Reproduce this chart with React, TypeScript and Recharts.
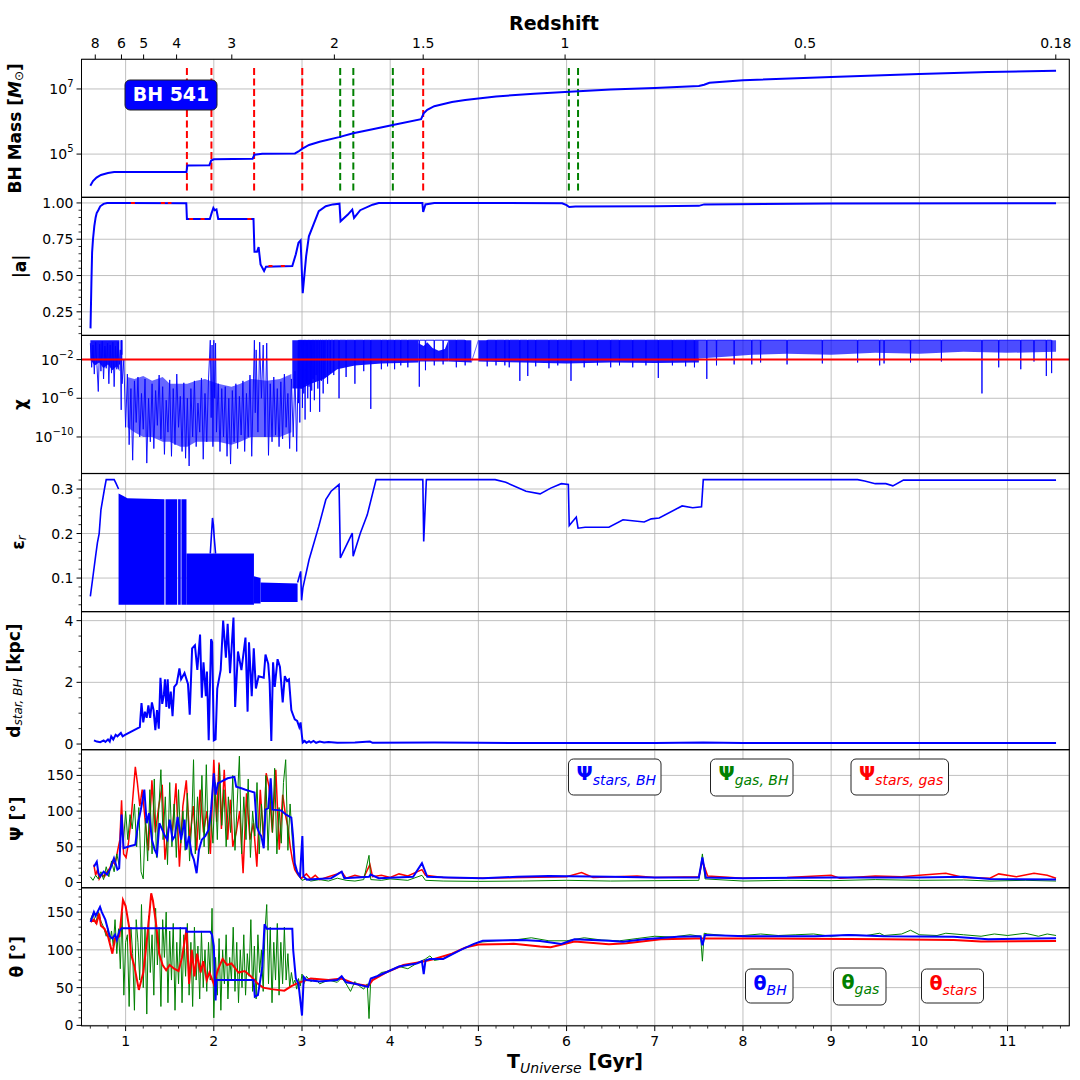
import React from 'react';
import { ComposedChart, Line, Area, XAxis, YAxis, CartesianGrid, ReferenceLine } from 'recharts';

type P = [number, number];
type B = [number, number, number];

// cosmic time axis (Gyr)
const tRange: [number, number] = [0.5, 11.7];
const gyrTicks = [1, 2, 3, 4, 5, 6, 7, 8, 9, 10, 11];
const gyrMinor = [
  0.6, 0.8, 1.2, 1.4, 1.6, 1.8, 2.2, 2.4, 2.6, 2.8, 3.2, 3.4, 3.6, 3.8, 4.2, 4.4, 4.6, 4.8,
  5.2, 5.4, 5.6, 5.8, 6.2, 6.4, 6.6, 6.8, 7.2, 7.4, 7.6, 7.8, 8.2, 8.4, 8.6, 8.8, 9.2, 9.4,
  9.6, 9.8, 10.2, 10.4, 10.6, 10.8, 11.2, 11.4, 11.6,
];

// redshift labels on the top axis and the time each one sits at
const zLabels = ['8', '6', '5', '4', '3', '2', '1.5', '1', '0.5', '0.18'];
const zTimes = [0.656, 0.953, 1.204, 1.578, 2.204, 3.367, 4.374, 5.983, 8.704, 11.547];

// BH mass, log10(M / Msun)
const massLog: P[] = [
  [0.6, 4.03], [0.63, 4.17], [0.67, 4.28], [0.72, 4.36], [0.8, 4.42], [0.87, 4.45], [1.69, 4.45],
  [1.7, 4.65], [1.95, 4.66], [1.97, 4.8], [2.0, 4.84], [2.44, 4.86], [2.46, 4.98], [2.55, 5.01],
  [2.92, 5.02], [2.96, 5.08], [3.0, 5.16], [3.08, 5.28], [3.2, 5.38], [3.42, 5.52], [3.58, 5.64],
  [3.8, 5.76], [4.03, 5.89], [4.35, 6.07], [4.38, 6.25], [4.42, 6.36], [4.5, 6.47], [4.7, 6.6],
  [4.85, 6.66], [5.2, 6.77], [5.63, 6.85], [5.98, 6.91], [6.5, 6.98], [7.0, 7.03], [7.5, 7.09],
  [7.56, 7.13], [7.62, 7.19], [8.0, 7.27], [9.0, 7.37], [10.0, 7.46], [10.78, 7.52], [11.55, 7.56],
];
const mergersRed = [1.695, 1.973, 2.457, 3.003, 4.374];
const mergersGreen = [3.433, 3.582, 4.03, 6.026, 6.13];
const mergerSpan: [number, number] = [3.88, 7.7];

// spin |a|
const spinBlue: P[] = [
  [0.602, 0.136], [0.612, 0.45], [0.62, 0.66], [0.63, 0.75], [0.645, 0.84], [0.66, 0.9], [0.672, 0.93],
  [0.69, 0.95], [0.712, 0.977], [0.75, 0.994], [0.79, 1.0], [1.0, 1.0], [1.688, 0.998], [1.695, 0.89],
  [1.955, 0.89], [1.975, 0.93], [1.995, 0.966], [2.01, 0.95], [2.03, 0.955], [2.05, 0.89], [2.45, 0.89],
  [2.461, 0.664], [2.49, 0.664], [2.508, 0.696], [2.53, 0.577], [2.57, 0.531], [2.592, 0.561],
  [2.89, 0.565], [2.93, 0.646], [2.96, 0.726], [2.984, 0.742], [3.008, 0.378], [3.047, 0.634],
  [3.078, 0.77], [3.13, 0.851], [3.19, 0.943], [3.27, 0.977], [3.35, 0.99], [3.425, 0.995],
  [3.437, 0.874], [3.52, 0.92], [3.57, 0.954], [3.59, 0.897], [3.66, 0.95], [3.8, 0.988], [3.87, 1.0],
  [4.365, 1.0], [4.374, 0.938], [4.4, 0.99], [4.5, 1.0], [5.95, 0.998], [6.0, 0.985], [6.03, 0.972],
  [6.1, 0.975], [7.0, 0.977], [7.5, 0.98], [7.56, 0.99], [9.0, 0.996], [11.55, 0.998],
];
const spinRedSegs: P[][] = [
  [[1.06, 1.0], [1.14, 1.0]],
  [[1.4, 1.0], [1.52, 1.0]],
  [[1.72, 0.89], [1.78, 0.89]],
  [[1.85, 0.89], [1.91, 0.89]],
  [[2.38, 0.89], [2.45, 0.89]],
  [[2.62, 0.565], [2.7, 0.565]],
  [[2.76, 0.565], [2.84, 0.565]],
];

// chi, log10
const chiThreshold = -2;
const chiEarly: P[] = [
  [0.6, -0.3], [0.615, -2.8], [0.63, -0.5], [0.645, -3.5], [0.66, -0.2], [0.675, -2.6], [0.69, -5.3],
  [0.705, -0.4], [0.72, -3.2], [0.735, -0.1], [0.75, -4.0], [0.765, -0.6], [0.78, -2.9], [0.795, -0.3],
  [0.81, -4.5], [0.825, -0.5], [0.84, -3.4], [0.855, -0.2], [0.87, -4.8], [0.885, -0.6], [0.9, -3.0],
  [0.915, -0.2], [0.93, -2.5], [0.94, -1.0], [0.95, -7.2], [0.955, 0.0], [0.96, -4.5], [0.98, -2.0],
  [1.0, -9.0], [1.02, -3.5], [1.04, -10.8], [1.06, -5.0], [1.08, -12.4], [1.1, -4.2], [1.12, -8.5],
  [1.14, -3.8], [1.16, -10.0], [1.18, -5.5], [1.2, -9.2], [1.22, -4.0], [1.24, -12.7], [1.26, -6.0],
  [1.28, -10.5], [1.3, -4.5], [1.32, -11.2], [1.34, -5.2], [1.36, -8.8], [1.38, -3.6], [1.4, -10.2],
  [1.42, -4.8], [1.44, -11.8], [1.46, -6.2], [1.48, -9.5], [1.5, -4.1], [1.52, -12.0], [1.54, -5.0],
  [1.56, -10.8], [1.58, -3.5], [1.6, -9.0], [1.62, -5.8], [1.64, -11.5], [1.66, -4.4], [1.68, -12.2],
  [1.7, -6.0], [1.72, -13.0], [1.74, -5.0], [1.76, -10.0], [1.78, -4.2], [1.8, -11.0], [1.82, -6.5],
  [1.84, -9.5], [1.86, -3.9], [1.88, -12.3], [1.9, -5.5], [1.92, -10.5], [1.94, -4.0], [1.96, 0.0],
  [1.97, -8.0], [1.98, -0.5], [1.99, -11.0], [2.0, 0.0], [2.01, -6.0], [2.02, -0.3], [2.03, -9.5],
  [2.05, -4.5], [2.07, -11.5], [2.09, -5.0], [2.11, -10.0], [2.13, -4.8], [2.15, -12.0], [2.17, -6.0],
  [2.19, -12.8], [2.21, -5.2], [2.23, -10.5], [2.25, -4.5], [2.27, -11.2], [2.29, -5.8], [2.31, -9.8],
  [2.33, -4.2], [2.35, -11.5], [2.37, -5.5], [2.39, -10.0], [2.41, -3.6], [2.43, -12.0], [2.45, -4.0],
  [2.46, 0.0], [2.47, -7.5], [2.48, -1.0], [2.5, -9.5], [2.52, -0.2], [2.54, -6.0], [2.56, -0.5],
  [2.58, -10.0], [2.6, -0.3], [2.62, -11.9], [2.64, -4.5], [2.66, -10.5], [2.68, -3.8], [2.7, -9.8],
  [2.72, -5.0], [2.74, -11.0], [2.76, -4.3], [2.78, -10.2], [2.8, -3.5], [2.82, -9.0], [2.84, -5.5],
  [2.86, -11.2], [2.88, -4.0], [2.9, -10.0], [2.92, -3.2], [2.94, -11.5], [2.96, -0.5],
];
// downward excursions of chi after the quiet phase: [t, log10 chi at the tip]
const chiBase = 0;
const chiSpikesA: P[] = [
  [2.96, -6.5], [2.975, -8.5], [2.99, -5], [3.005, -7], [3.02, -5.5], [3.035, -8.2], [3.05, -4.5],
  [3.065, -6], [3.08, -4.8], [3.095, -7.4], [3.11, -5.2], [3.125, -4], [3.14, -6.2], [3.16, -3.6],
  [3.18, -5.0], [3.2, -7.4], [3.22, -4.2], [3.24, -5.5], [3.26, -3.8], [3.29, -4.5], [3.32, -3.4],
  [3.36, -3.6], [3.42, -6.0], [3.5, -3.8], [3.6, -4.5], [3.7, -3.2], [3.78, -7.1], [3.9, -3.0],
  [3.97, -2.7], [4.05, -3.0], [4.12, -2.6], [4.2, -2.8], [4.33, -4.8], [4.4, -3.1], [4.5, -2.6],
  [4.6, -2.5], [4.75, -2.8], [4.85, -2.6],
];
const chiSpikesB: P[] = [
  [5.1, -2.7], [5.2, -2.6], [5.3, -2.6], [5.35, -2.8], [5.47, -4.2], [5.56, -3.7], [5.65, -2.7],
  [5.8, -2.9], [5.9, -2.6], [6.05, -4.2], [6.2, -2.8], [6.35, -2.6], [6.5, -2.8], [6.6, -2.6],
  [6.75, -2.8], [6.9, -2.6], [7.04, -3.9], [7.2, -2.6], [7.35, -2.7], [7.45, -2.8], [7.59, -4.0],
  [7.7, -2.6], [7.9, -2.5], [8.1, -2.5], [8.2, -2.3], [8.5, -2.5], [8.9, -2.4], [9.3, -2.3],
  [9.55, -2.6], [9.6, -2.4], [9.9, -2.3], [10.25, -2.2], [10.71, -5.5], [10.9, -2.8], [11.15, -3.0],
  [11.3, -2.2], [11.44, -3.7], [11.5, -3.4],
];
const chiGapLink: P[] = [[4.92, -2.3], [5.0, 0.0]];
// dense envelope of the chi trace: [t, low, high]
const chiBands: B[][] = [
  [[0.6, -2.0, 0], [0.65, -2.6, 0], [0.7, -2.3, 0], [0.75, -2.9, 0], [0.8, -2.5, 0], [0.85, -3.1, 0], [0.9, -2.7, 0], [0.93, -3.2, 0]],
  [[0.94, -1.5, 0], [0.965, -1.5, 0]],
  [[2.89, -5.0, 0], [3.0, -5.0, 0], [3.1, -4.5, 0], [3.25, -4.0, 0], [3.4, -3.0, 0], [3.6, -2.6, 0], [3.9, -2.4, 0], [4.32, -2.3, 0]],
  [[4.32, -2.2, -0.3], [4.38, -2.2, -0.6], [4.42, -2.2, -0.2], [4.48, -2.2, -0.8], [4.55, -2.2, -1.1], [4.62, -2.2, -0.9], [4.66, -2.2, 0]],
  [[4.66, -2.2, 0], [4.92, -2.3, 0]],
  [[5.0, -2.2, 0], [5.5, -2.3, 0], [6.0, -2.4, 0], [6.5, -2.3, 0], [7.0, -2.35, 0], [7.5, -2.3, 0]],
];
const chiBandSparse: B[] = [
  [7.5, -1.9, 0], [7.8, -1.7, 0], [8.1, -1.5, 0], [8.5, -1.4, 0], [9.0, -1.5, 0], [9.5, -1.3, 0],
  [10.0, -1.4, 0], [10.5, -1.2, 0], [11.0, -1.3, 0], [11.55, -1.2, 0],
];
const chiDeepCore: B[] = [
  [1.02, -9.0, -3.8], [1.1, -9.5, -4.0], [1.2, -10.0, -3.7], [1.3, -10.0, -4.2], [1.42, -10.5, -3.8],
  [1.5, -10.5, -4.5], [1.62, -11.0, -4.5], [1.7, -11.0, -4.5], [1.8, -10.5, -4.2], [1.9, -10.5, -4.0],
  [2.05, -10.5, -4.5], [2.2, -10.8, -4.8], [2.3, -10.5, -4.5], [2.42, -10.0, -4.0], [2.6, -10.0, -4.2],
  [2.75, -10.0, -4.0], [2.88, -9.5, -3.5],
];

// radiative efficiency
const epsLine: P[][] = [
  [[0.6, 0.059], [0.63, 0.104], [0.66, 0.15], [0.68, 0.179], [0.7, 0.2], [0.72, 0.253], [0.76, 0.3], [0.78, 0.321], [0.87, 0.321], [0.89, 0.313], [0.92, 0.3]],
  [[1.96, 0.155], [1.985, 0.235], [1.995, 0.22], [2.005, 0.19], [2.02, 0.155]],
  [
    [2.95, 0.09], [2.985, 0.115], [2.995, 0.05], [3.01, 0.078], [3.08, 0.141], [3.19, 0.216], [3.27, 0.276],
    [3.33, 0.295], [3.42, 0.31], [3.435, 0.145], [3.47, 0.16], [3.57, 0.201], [3.58, 0.149], [3.66, 0.2],
    [3.74, 0.242], [3.84, 0.321], [4.37, 0.321], [4.38, 0.182], [4.41, 0.321], [5.19, 0.321], [5.31, 0.315],
    [5.54, 0.295], [5.7, 0.289], [5.82, 0.302], [5.94, 0.312], [6.02, 0.31], [6.03, 0.218], [6.11, 0.237],
    [6.13, 0.212], [6.21, 0.214], [6.48, 0.214], [6.64, 0.231], [6.88, 0.226], [6.96, 0.233], [7.05, 0.235],
    [7.31, 0.262], [7.43, 0.258], [7.53, 0.26], [7.55, 0.321], [9.3, 0.321], [9.38, 0.318], [9.5, 0.312],
    [9.62, 0.312], [9.7, 0.307], [9.82, 0.32], [11.55, 0.32],
  ],
];
const epsBands: B[][] = [
  [[0.92, 0.04, 0.29], [0.97, 0.04, 0.285], [1.02, 0.04, 0.279], [1.44, 0.04, 0.277]],
  [[1.452, 0.04, 0.277], [1.585, 0.04, 0.277]],
  [[1.595, 0.04, 0.277], [1.625, 0.04, 0.277]],
  [[1.633, 0.04, 0.277], [1.69, 0.04, 0.277]],
  [[1.69, 0.04, 0.155], [2.455, 0.04, 0.155]],
  [[2.455, 0.043, 0.104], [2.53, 0.043, 0.1]],
  [[2.53, 0.046, 0.09], [2.95, 0.046, 0.088]],
];

// distance star - BH (kpc)
const dist: P[] = [
  [0.641, 0.12], [0.673, 0.08], [0.712, 0.06], [0.751, 0.12], [0.77, 0.07], [0.8, 0.15], [0.82, 0.08],
  [0.837, 0.25], [0.86, 0.15], [0.887, 0.3], [0.907, 0.25], [0.946, 0.36], [0.966, 0.25], [0.993, 0.3],
  [1.161, 0.55], [1.18, 1.33], [1.2, 0.7], [1.219, 1.05], [1.239, 0.85], [1.258, 1.25], [1.278, 0.85],
  [1.298, 1.35], [1.317, 1.1], [1.337, 0.45], [1.356, 1.1], [1.376, 0.5], [1.395, 2.15], [1.415, 1.3],
  [1.434, 1.6], [1.446, 2.1], [1.462, 1.2], [1.477, 2.1], [1.493, 1.15], [1.512, 1.7], [1.532, 0.9],
  [1.551, 1.85], [1.579, 1.95], [1.61, 2.45], [1.629, 2.1], [1.668, 2.3], [1.707, 1.95], [1.727, 0.95],
  [1.754, 3.1], [1.786, 3.2], [1.813, 2.4], [1.844, 3.55], [1.864, 1.5], [1.883, 2.65], [1.91, 1.55],
  [1.922, 2.35], [1.942, 0.12], [1.969, 3.4], [1.981, 3.3], [2.0, 0.12], [2.02, 0.15], [2.039, 1.8],
  [2.078, 2.4], [2.106, 4.0], [2.137, 2.8], [2.157, 3.9], [2.184, 2.3], [2.223, 4.1], [2.242, 1.2],
  [2.274, 3.0], [2.313, 2.4], [2.359, 3.45], [2.383, 1.05], [2.399, 3.3], [2.43, 1.55], [2.453, 3.1],
  [2.477, 1.8], [2.508, 2.2], [2.566, 2.15], [2.586, 2.9], [2.617, 2.6], [2.633, 2.0], [2.652, 0.1],
  [2.672, 2.65], [2.691, 1.85], [2.723, 2.75], [2.75, 2.5], [2.781, 1.35], [2.805, 2.2], [2.828, 2.05],
  [2.852, 2.1], [2.879, 1.1], [2.898, 0.95], [2.918, 0.8], [2.945, 0.75], [2.969, 0.55], [2.984, 0.7],
  [2.996, 0.35], [3.008, 0.05], [3.03, 0.1], [3.05, 0.04], [3.08, 0.09], [3.1, 0.05], [3.13, 0.1],
  [3.16, 0.04], [3.2, 0.08], [3.25, 0.05], [3.3, 0.07], [3.4, 0.04], [3.6, 0.05], [3.77, 0.08], [3.8, 0.04],
  [4.5, 0.05], [5.0, 0.04], [6.0, 0.03], [7.0, 0.03], [7.55, 0.05], [8.0, 0.03], [9.0, 0.03], [10.0, 0.03],
  [11.0, 0.03], [11.55, 0.03],
];

// misalignment angles Psi (deg)
const psiStarsBH: P[] = [
  [0.641, 22], [0.673, 29], [0.692, 13], [0.712, 8.5], [0.751, 15], [0.79, 11], [0.829, 20], [0.868, 34],
  [0.907, 18], [0.927, 20], [0.954, 95], [0.977, 48], [1.024, 50], [1.11, 53], [1.141, 83], [1.173, 102],
  [1.212, 130], [1.239, 83], [1.266, 97], [1.298, 60], [1.329, 46], [1.356, 39], [1.383, 83], [1.415, 74],
  [1.446, 65], [1.473, 60], [1.5, 88], [1.532, 60], [1.559, 65], [1.59, 92], [1.629, 60], [1.668, 88],
  [1.688, 46], [1.719, 65], [1.746, 41], [1.774, 32], [1.805, 13], [1.832, 46], [1.864, 60], [1.903, 65],
  [1.942, 74], [1.969, 102], [2.0, 153], [2.02, 123], [2.047, 139], [2.078, 141], [2.157, 146],
  [2.234, 148], [2.254, 134], [2.313, 132], [2.359, 130], [2.41, 128], [2.461, 126], [2.488, 78],
  [2.516, 69], [2.539, 65], [2.566, 48], [2.586, 102], [2.617, 104], [2.645, 146], [2.664, 102],
  [2.762, 101], [2.82, 95], [2.879, 91], [2.898, 65], [2.918, 27], [2.945, 15], [2.977, 8.5], [3.004, 65],
  [3.016, 8.5], [3.055, 4], [3.17, 5], [3.33, 6], [3.45, 15], [3.48, 6], [3.76, 8], [3.777, 11], [3.87, 6],
  [4.26, 8], [4.36, 27], [4.42, 8], [4.66, 7], [5.05, 6], [5.44, 8], [5.8, 9], [6.5, 8], [7.0, 7], [7.5, 7],
  [7.54, 35], [7.58, 7], [8.0, 6], [9.0, 7], [10.0, 7], [10.5, 8], [10.8, 5], [11.55, 4],
];
const psiGasBH: P[] = [
  [0.6, 8], [0.63, 3], [0.66, 10], [0.69, 5], [0.72, 15], [0.75, 4], [0.78, 22], [0.81, 8], [0.84, 30],
  [0.87, 15], [0.9, 40], [0.925, 25], [0.95, 80], [0.975, 55], [1.0, 100], [1.025, 60], [1.05, 95],
  [1.075, 75], [1.1, 110], [1.125, 50], [1.15, 105], [1.175, 15], [1.2, 5], [1.225, 90], [1.25, 30],
  [1.275, 130], [1.3, 40], [1.325, 145], [1.35, 35], [1.375, 100], [1.4, 158], [1.425, 60], [1.45, 120],
  [1.475, 25], [1.5, 140], [1.525, 50], [1.55, 110], [1.575, 35], [1.6, 130], [1.625, 55], [1.65, 100],
  [1.675, 45], [1.7, 125], [1.725, 30], [1.75, 85], [1.77, 172], [1.79, 40], [1.815, 120], [1.84, 60],
  [1.865, 150], [1.89, 50], [1.915, 165], [1.94, 40], [1.965, 100], [1.99, 55], [2.015, 140], [2.04, 60],
  [2.065, 165], [2.09, 80], [2.115, 130], [2.14, 50], [2.165, 120], [2.19, 70], [2.215, 150], [2.24, 45],
  [2.265, 110], [2.29, 177], [2.315, 40], [2.34, 120], [2.365, 60], [2.39, 145], [2.415, 35], [2.44, 100],
  [2.465, 65], [2.49, 140], [2.515, 40], [2.54, 110], [2.565, 60], [2.59, 150], [2.615, 45], [2.64, 125],
  [2.665, 70], [2.69, 160], [2.715, 40], [2.74, 105], [2.765, 55], [2.79, 140], [2.815, 172], [2.84, 45],
  [2.865, 110], [2.89, 60], [2.915, 25], [2.94, 15], [2.97, 8], [3.0, 3], [3.05, 5], [3.1, 2], [3.2, 4],
  [3.3, 2], [3.4, 6], [3.5, 3], [3.6, 2], [3.7, 4], [3.76, 38], [3.78, 4], [3.9, 3], [4.0, 5], [4.2, 3],
  [4.36, 10], [4.4, 3], [4.6, 2], [5.0, 1.5], [5.5, 2], [6.0, 3], [6.5, 2], [7.0, 2.5], [7.5, 3], [7.54, 40],
  [7.57, 5], [8.0, 2], [8.5, 3], [9.0, 2.5], [9.5, 4], [10.0, 3], [10.5, 3.5], [10.8, 2], [11.2, 3], [11.55, 2],
];
const psiStarsGas: P[] = [
  [0.64, 25], [0.66, 10], [0.68, 18], [0.7, 5], [0.73, 12], [0.76, 8], [0.79, 15], [0.82, 20], [0.85, 30],
  [0.88, 25], [0.91, 45], [0.935, 60], [0.954, 115], [0.977, 40], [1.005, 35], [1.032, 55], [1.063, 90],
  [1.11, 162], [1.133, 140], [1.161, 107], [1.188, 130], [1.219, 90], [1.258, 45], [1.298, 143],
  [1.337, 70], [1.376, 107], [1.415, 137], [1.446, 32], [1.493, 85], [1.532, 75], [1.571, 139], [1.61, 22],
  [1.649, 107], [1.688, 143], [1.727, 60], [1.766, 107], [1.805, 45], [1.844, 130], [1.883, 70],
  [1.922, 100], [1.961, 40], [2.0, 172], [2.032, 85], [2.059, 168], [2.086, 75], [2.118, 158], [2.157, 60],
  [2.188, 116], [2.215, 50], [2.254, 70], [2.293, 100], [2.332, 13], [2.371, 125], [2.41, 60], [2.449, 83],
  [2.488, 22], [2.527, 130], [2.566, 55], [2.594, 153], [2.625, 135], [2.664, 70], [2.703, 158],
  [2.742, 46], [2.781, 123], [2.812, 95], [2.84, 78], [2.867, 50], [2.891, 32], [2.918, 18], [2.957, 10],
  [2.996, 6], [3.05, 12], [3.1, 5], [3.15, 10], [3.2, 4], [3.3, 8], [3.4, 12], [3.45, 15], [3.5, 6],
  [3.6, 10], [3.7, 7], [3.77, 25], [3.8, 8], [3.9, 10], [4.0, 7], [4.1, 12], [4.2, 9], [4.36, 18], [4.4, 10],
  [4.6, 7], [5.0, 6], [5.5, 7], [6.0, 8], [6.17, 14], [6.3, 7], [6.8, 9], [7.0, 7], [7.5, 8], [7.54, 30],
  [7.6, 9], [8.0, 6], [8.5, 7], [9.0, 10], [9.1, 6], [9.5, 9], [9.8, 8], [10.0, 10], [10.3, 13], [10.5, 7],
  [10.8, 6], [10.9, 12], [11.1, 8], [11.3, 13], [11.45, 10], [11.55, 6],
];

// inclination angles theta (deg)
const thetaBH: P[] = [
  [0.603, 137], [0.641, 150], [0.66, 145], [0.71, 157], [0.73, 150], [0.77, 140], [0.82, 118], [0.85, 115],
  [0.88, 120], [0.9, 113], [0.93, 125], [0.954, 128.6], [1.688, 128.6], [1.69, 124], [1.96, 124],
  [1.98, 120], [2.0, 105], [2.02, 33], [2.03, 60], [2.45, 60], [2.465, 38], [2.5, 40], [2.52, 55],
  [2.55, 77], [2.575, 134], [2.6, 128], [2.89, 128], [2.9, 100], [2.93, 62], [2.96, 55], [3.0, 13],
  [3.02, 64], [3.05, 60], [3.2, 58], [3.4, 60], [3.45, 65], [3.5, 57], [3.6, 55], [3.75, 51], [3.78, 62],
  [3.85, 65], [3.95, 70], [4.1, 78], [4.3, 82], [4.36, 85], [4.38, 68], [4.4, 86], [4.45, 88], [4.6, 88],
  [4.8, 100], [4.95, 108], [5.05, 112], [5.5, 113], [5.7, 111.8], [5.94, 107.7], [6.09, 114], [6.48, 112],
  [6.64, 110.7], [6.88, 114], [7.26, 117.5], [7.52, 118], [7.54, 106], [7.57, 119.6], [8.04, 118],
  [8.82, 118], [9.2, 119.6], [9.6, 118], [10.39, 117.5], [10.78, 114], [11.55, 115.4],
];
const thetaGas: P[] = [
  [0.6, 140], [0.63, 148], [0.66, 135], [0.69, 150], [0.72, 138], [0.75, 130], [0.78, 118], [0.8, 128],
  [0.82, 110], [0.84, 125], [0.86, 105], [0.88, 140], [0.9, 95], [0.92, 128], [0.94, 75], [0.96, 150],
  [0.98, 40], [1.0, 110], [1.02, 120], [1.04, 25], [1.06, 130], [1.08, 95], [1.1, 20], [1.12, 140],
  [1.14, 110], [1.16, 60], [1.18, 160], [1.2, 50], [1.22, 130], [1.24, 15], [1.26, 145], [1.28, 70],
  [1.3, 120], [1.32, 40], [1.34, 155], [1.36, 80], [1.38, 130], [1.4, 25], [1.42, 140], [1.44, 90],
  [1.46, 150], [1.48, 30], [1.5, 125], [1.52, 60], [1.54, 135], [1.56, 20], [1.58, 110], [1.6, 55],
  [1.62, 130], [1.64, 30], [1.66, 120], [1.68, 65], [1.7, 135], [1.72, 40], [1.74, 110], [1.76, 25],
  [1.78, 130], [1.8, 60], [1.82, 105], [1.84, 35], [1.86, 125], [1.88, 50], [1.9, 100], [1.92, 45],
  [1.94, 110], [1.96, 60], [1.98, 155], [2.0, 10], [2.02, 90], [2.04, 40], [2.06, 115], [2.08, 20],
  [2.1, 100], [2.12, 55], [2.14, 120], [2.16, 35], [2.18, 90], [2.2, 60], [2.22, 130], [2.24, 45],
  [2.26, 110], [2.28, 30], [2.3, 100], [2.32, 50], [2.34, 120], [2.36, 40], [2.38, 95], [2.4, 65],
  [2.42, 140], [2.44, 45], [2.46, 105], [2.48, 35], [2.5, 120], [2.52, 70], [2.54, 100], [2.56, 45],
  [2.58, 125], [2.6, 160], [2.62, 55], [2.64, 130], [2.66, 30], [2.68, 110], [2.7, 60], [2.72, 135],
  [2.74, 40], [2.76, 110], [2.78, 55], [2.8, 130], [2.82, 60], [2.84, 95], [2.86, 50], [2.88, 70],
  [2.9, 55], [2.92, 60], [2.94, 48], [2.96, 62], [2.98, 52], [3.0, 68], [3.02, 55], [3.05, 65], [3.1, 58],
  [3.15, 62], [3.2, 55], [3.3, 60], [3.4, 57], [3.45, 63], [3.5, 55], [3.55, 45], [3.6, 58], [3.65, 52],
  [3.7, 48], [3.74, 55], [3.76, 9], [3.78, 62], [3.85, 65], [3.9, 70], [4.0, 72], [4.1, 78], [4.2, 75],
  [4.3, 82], [4.4, 88], [4.45, 92], [4.5, 86], [4.6, 88], [4.8, 100], [5.0, 110], [5.2, 112], [5.4, 113],
  [5.6, 116], [5.8, 112], [6.0, 112], [6.2, 116], [6.4, 113], [6.6, 112], [6.8, 115], [7.0, 118],
  [7.2, 117], [7.4, 120], [7.52, 118], [7.54, 85], [7.56, 122], [7.6, 121], [7.8, 119], [8.0, 119],
  [8.2, 121], [8.4, 119], [8.6, 120], [8.8, 121], [9.0, 118], [9.2, 120], [9.4, 119], [9.55, 122],
  [9.6, 119], [9.8, 121], [9.9, 126], [10.0, 120], [10.2, 119], [10.3, 122], [10.5, 120], [10.7, 118],
  [10.85, 121], [11.0, 119], [11.2, 122], [11.35, 118], [11.45, 121], [11.55, 119],
];
const thetaStars: P[] = [
  [0.603, 137], [0.64, 140], [0.67, 135], [0.7, 148], [0.72, 132], [0.76, 128], [0.8, 118], [0.85, 95],
  [0.88, 115], [0.93, 118], [0.97, 166], [1.0, 158], [1.04, 130], [1.06, 95], [1.1, 78], [1.15, 47],
  [1.2, 70], [1.23, 100], [1.27, 148], [1.29, 175], [1.31, 165], [1.35, 130], [1.38, 95], [1.42, 80],
  [1.46, 73], [1.5, 80], [1.55, 75], [1.6, 72], [1.64, 90], [1.69, 127], [1.72, 55], [1.75, 100],
  [1.78, 65], [1.81, 95], [1.85, 70], [1.88, 85], [1.92, 60], [1.95, 70], [2.0, 55], [2.05, 75], [2.1, 88],
  [2.15, 80], [2.2, 82], [2.28, 70], [2.35, 72], [2.42, 65], [2.5, 55], [2.56, 50], [2.65, 48], [2.8, 46],
  [2.88, 52], [2.95, 56], [3.0, 58], [3.1, 62], [3.3, 60], [3.45, 62], [3.6, 55], [3.75, 52], [3.8, 60],
  [3.95, 70], [4.15, 80], [4.35, 84], [4.5, 88], [4.7, 95], [4.85, 103], [5.0, 107], [5.4, 108],
  [5.7, 104.3], [5.82, 103.4], [6.09, 111], [6.48, 107.5], [6.68, 108.6], [7.07, 114], [7.46, 114.9],
  [8.04, 115], [9.2, 114.5], [9.6, 114], [10.39, 113], [10.7, 111], [11.55, 111.8],
];

// ---- layout ----
const FONT = 'DejaVu Sans';
const PLOT_LEFT = 81.5;
const PLOT_RIGHT = 1069.3;
const PANEL_TOP = 59.3;
const PANEL_H = 138.07;
const TOP_AXIS_H = 40;
const BOTTOM_AXIS_H = 30;
const BLUE = '#0000ff';
const GREEN = '#008000';
const RED = '#ff0000';
const GRID = '#b0b0b0';

const rows = (a: P[]) => a.map(([t, v]) => ({ t, v }));
const bandRows = (a: B[]) => a.map(([t, lo, hi]) => ({ t, r: [lo, hi] }));
// each excursion drawn as a thin vertical stroke hanging from the band top
const spikeRows = (a: P[], base: number) =>
  a.flatMap(([t, v]) => [
    { t: t - 0.003, v: base },
    { t, v },
    { t: t + 0.003, v: base },
  ]);

const line = (key: string, data: P[], color: string, width: number, dash?: string) => (
  <Line
    key={key}
    xAxisId="m"
    yAxisId="m"
    data={rows(data)}
    dataKey="v"
    type="linear"
    stroke={color}
    strokeWidth={width}
    strokeDasharray={dash}
    dot={false}
    activeDot={false}
    isAnimationActive={false}
  />
);

const spikes = (key: string, data: P[], base: number, color: string) => (
  <Line
    key={key}
    xAxisId="m"
    yAxisId="m"
    data={spikeRows(data, base)}
    dataKey="v"
    type="linear"
    stroke={color}
    strokeWidth={0.9}
    dot={false}
    activeDot={false}
    isAnimationActive={false}
  />
);

const band = (key: string, data: B[], color: string, opacity: number) => (
  <Area
    key={key}
    xAxisId="m"
    yAxisId="m"
    data={bandRows(data)}
    dataKey="r"
    type="linear"
    stroke="none"
    fill={color}
    fillOpacity={opacity}
    dot={false}
    activeDot={false}
    isAnimationActive={false}
  />
);

const fixed = (d: number) => (v: number) => v.toFixed(d);
const pow10 = (v: number) => (
  <>
    10<tspan dy={-7} fontSize={10}>{v < 0 ? '\u2212' + Math.abs(v) : String(v)}</tspan>
  </>
);

// left ticks: major with label, minor as short marks
const yTick = (major: number[], fmt: (v: number) => React.ReactNode) => (props: any) => {
  const { y, payload } = props;
  const x = PLOT_LEFT;
  const v = payload.value as number;
  const isMajor = major.some((m) => Math.abs(m - v) < 1e-6);
  return (
    <g>
      <line x1={x - (isMajor ? 5 : 3)} x2={x} y1={y} y2={y} stroke="#000" strokeWidth={isMajor ? 1 : 0.8} />
      {isMajor && (
        <text x={x - 8} y={y + 5} textAnchor="end" fontSize={14} fontFamily={FONT} fill="#000">
          {fmt(v)}
        </text>
      )}
    </g>
  );
};

const xTick = (props: any) => {
  const { x, payload } = props;
  const y = PANEL_H;
  const v = payload.value as number;
  const isMajor = gyrTicks.includes(v);
  return (
    <g>
      <line x1={x} x2={x} y1={y} y2={y + (isMajor ? 5 : 2.5)} stroke="#000" strokeWidth={isMajor ? 1 : 0.8} />
      {isMajor && (
        <text x={x} y={y + 19.5} textAnchor="middle" fontSize={14} fontFamily={FONT} fill="#000">
          {v}
        </text>
      )}
    </g>
  );
};

const zTick = (props: any) => {
  const { x, payload } = props;
  const y = TOP_AXIS_H;
  const i = zTimes.indexOf(payload.value);
  return (
    <g>
      <line x1={x} x2={x} y1={y - 4.5} y2={y} stroke="#000" />
      <text x={x} y={y - 10.8} textAnchor="middle" fontSize={14} fontFamily={FONT} fill="#000">
        {zLabels[i]}
      </text>
    </g>
  );
};

interface PanelProps {
  idx: number;
  yDomain: [number, number];
  yMajor: number[];
  yMinor?: number[];
  fmt: (v: number) => React.ReactNode;
  top?: boolean;
  bottom?: boolean;
  children: React.ReactNode;
}

function Panel({ idx, yDomain, yMajor, yMinor = [], fmt, top, bottom, children }: PanelProps) {
  const chartTop = PANEL_TOP + idx * PANEL_H - (top ? TOP_AXIS_H : 0);
  const height = PANEL_H + (top ? TOP_AXIS_H : 0) + (bottom ? BOTTOM_AXIS_H : 0);
  return (
    <div style={{ position: 'absolute', left: 0, top: chartTop }}>
      <ComposedChart width={1080} height={height} margin={{ top: 0, right: 1080 - PLOT_RIGHT, bottom: 0, left: 0 }}>
        <XAxis xAxisId="g" type="number" dataKey="t" domain={tRange} allowDataOverflow ticks={gyrTicks} hide />
        <YAxis yAxisId="g" type="number" domain={yDomain} allowDataOverflow ticks={yMajor} hide />
        <CartesianGrid xAxisId="g" yAxisId="g" stroke={GRID} strokeWidth={0.8} />
        {top && (
          <XAxis
            xAxisId="z"
            orientation="top"
            type="number"
            dataKey="t"
            domain={tRange}
            allowDataOverflow
            ticks={zTimes}
            interval={0}
            height={TOP_AXIS_H}
            tick={zTick}
            tickLine={false}
            axisLine={false}
            tickSize={0}
            tickMargin={0}
          />
        )}
        <XAxis
          xAxisId="m"
          type="number"
          dataKey="t"
          domain={tRange}
          allowDataOverflow
          ticks={bottom ? [...gyrTicks, ...gyrMinor] : gyrTicks}
          interval={0}
          hide={!bottom}
          height={bottom ? BOTTOM_AXIS_H : 0}
          tick={xTick}
          tickLine={false}
          axisLine={false}
          tickSize={0}
          tickMargin={0}
        />
        <YAxis
          yAxisId="m"
          type="number"
          domain={yDomain}
          allowDataOverflow
          ticks={[...yMajor, ...yMinor]}
          interval={0}
          width={PLOT_LEFT}
          tick={yTick(yMajor, fmt)}
          tickLine={false}
          axisLine={false}
          tickSize={0}
          tickMargin={0}
        />
        {children}
      </ComposedChart>
    </div>
  );
}

const panelY = (i: number) => PANEL_TOP + i * PANEL_H;

function YLabel({ i, x, children }: { i: number; x: number; children: React.ReactNode }) {
  const cy = panelY(i) + PANEL_H / 2;
  return (
    <text
      transform={`translate(${x},${cy}) rotate(-90)`}
      textAnchor="middle"
      dominantBaseline="central"
      fontSize={17}
      fontWeight="bold"
      fontFamily={FONT}
      fill="#000"
    >
      {children}
    </text>
  );
}

function Badge({ x, y, w, h, color, sym, sub }: { x: number; y: number; w: number; h: number; color: string; sym: string; sub: string }) {
  return (
    <g>
      <rect x={x} y={y} width={w} height={h} rx={5} fill="#fff" stroke="#222" strokeWidth={1} />
      <text x={x + 8} y={y + 21} fill={color} fontFamily={FONT} fontSize={19} fontWeight="bold">
        {sym}
        <tspan fontSize={14} fontWeight="normal" fontStyle="italic" dy={5}>
          {sub}
        </tspan>
      </text>
    </g>
  );
}

export default function App() {
  return (
    <div
      style={{
        position: 'fixed',
        left: 0,
        top: 0,
        width: 1080,
        height: 1080,
        background: '#fff',
        overflow: 'hidden',
        fontFamily: FONT,
      }}
    >
      <style>{'.recharts-surface{overflow:visible}'}</style>
      <Panel idx={0} yDomain={[3.68, 7.92]} yMajor={[5, 7]} fmt={pow10} top>
        {mergersRed.map((t) => (
          <ReferenceLine key={'mr' + t} xAxisId="m" yAxisId="m" segment={[{ x: t, y: mergerSpan[0] }, { x: t, y: mergerSpan[1] }]} stroke={RED} strokeWidth={2} strokeDasharray="7 3.5" />
        ))}
        {mergersGreen.map((t) => (
          <ReferenceLine key={'mg' + t} xAxisId="m" yAxisId="m" segment={[{ x: t, y: mergerSpan[0] }, { x: t, y: mergerSpan[1] }]} stroke={GREEN} strokeWidth={2} strokeDasharray="7 3.5" />
        ))}
        {line('mass', massLog, BLUE, 2)}
      </Panel>

      <Panel
        idx={1}
        yDomain={[0.09, 1.041]}
        yMajor={[0.25, 0.5, 0.75, 1.0]}
        yMinor={[0.1, 0.15, 0.2, 0.3, 0.35, 0.4, 0.45, 0.55, 0.6, 0.65, 0.7, 0.8, 0.85, 0.9, 0.95]}
        fmt={fixed(2)}
      >
        {line('spin', spinBlue, BLUE, 2)}
        {spinRedSegs.map((s, k) => line('spinr' + k, s, RED, 2, '4 3'))}
      </Panel>

      <Panel idx={2} yDomain={[-13.73, 0.54]} yMajor={[-10, -6, -2]} fmt={pow10}>
        {band('chicore', chiDeepCore, BLUE, 0.6)}
        {chiBands.map((b, k) => band('chib' + k, b, BLUE, 0.92))}
        {band('chis', chiBandSparse, BLUE, 0.7)}
        {line('chie', chiEarly, BLUE, 0.9)}
        {spikes('chisa', chiSpikesA, chiBase, BLUE)}
        {spikes('chisb', chiSpikesB, chiBase, BLUE)}
        {line('chigap', chiGapLink, BLUE, 0.6)}
        <ReferenceLine xAxisId="m" yAxisId="m" y={chiThreshold} stroke={RED} strokeWidth={2} />
      </Panel>

      <Panel
        idx={3}
        yDomain={[0.0236, 0.3337]}
        yMajor={[0.1, 0.2, 0.3]}
        yMinor={[0.04, 0.06, 0.08, 0.12, 0.14, 0.16, 0.18, 0.22, 0.24, 0.26, 0.28, 0.32]}
        fmt={fixed(1)}
      >
        {epsBands.map((b, k) => band('epsb' + k, b, BLUE, 1))}
        {epsLine.map((s, k) => line('eps' + k, s, BLUE, 1.6))}
      </Panel>

      <Panel idx={4} yDomain={[-0.195, 4.28]} yMajor={[0, 2, 4]} yMinor={[0.5, 1, 1.5, 2.5, 3, 3.5]} fmt={fixed(0)}>
        {line('dist', dist, BLUE, 2)}
      </Panel>

      <Panel
        idx={5}
        yDomain={[-7.85, 185.6]}
        yMajor={[0, 50, 100, 150]}
        yMinor={[10, 20, 30, 40, 60, 70, 80, 90, 110, 120, 130, 140, 160, 170, 180]}
        fmt={fixed(0)}
      >
        {line('psiSG', psiStarsGas, RED, 1.5)}
        {line('psiGB', psiGasBH, GREEN, 1)}
        {line('psiSB', psiStarsBH, BLUE, 2)}
      </Panel>

      <Panel
        idx={6}
        yDomain={[-0.9, 181.9]}
        yMajor={[0, 50, 100, 150]}
        yMinor={[10, 20, 30, 40, 60, 70, 80, 90, 110, 120, 130, 140, 160, 170, 180]}
        fmt={fixed(0)}
        bottom
      >
        {line('thG', thetaGas, GREEN, 1)}
        {line('thS', thetaStars, RED, 2)}
        {line('thB', thetaBH, BLUE, 2)}
      </Panel>

      <svg width={1080} height={1080} style={{ position: 'absolute', left: 0, top: 0, pointerEvents: 'none' }}>
        {[0, 1, 2, 3, 4, 5, 6].map((i) => (
          <rect key={i} x={PLOT_LEFT} y={panelY(i)} width={PLOT_RIGHT - PLOT_LEFT} height={PANEL_H} fill="none" stroke="#000" strokeWidth={1} />
        ))}

        <text x={554} y={29.5} textAnchor="middle" fontSize={19} fontWeight="bold" fontFamily={FONT}>
          Redshift
        </text>
        <text x={575} y={1068} textAnchor="middle" fontSize={19} fontWeight="bold" fontFamily={FONT}>
          T
          <tspan fontSize={14} fontWeight="normal" fontStyle="italic" dy={5}>
            Universe
          </tspan>
          <tspan dy={-5}> [Gyr]</tspan>
        </text>

        <YLabel i={0} x={15}>
          BH Mass [<tspan fontStyle="italic">M</tspan>
          <tspan fontSize={12} fontWeight="normal" dy={4}>
            ⊙
          </tspan>
          <tspan dy={-4}>]</tspan>
        </YLabel>
        <YLabel i={1} x={20}>|a|</YLabel>
        <YLabel i={2} x={20}>χ</YLabel>
        <YLabel i={3} x={18}>
          ε<tspan fontSize={12} fontWeight="normal" fontStyle="italic" dy={4}>r</tspan>
        </YLabel>
        <YLabel i={4} x={14}>
          d
          <tspan fontSize={12} fontWeight="normal" fontStyle="italic" dy={4}>
            star, BH
          </tspan>
          <tspan dy={-4}> [kpc]</tspan>
        </YLabel>
        <YLabel i={5} x={17}>Ψ [°]</YLabel>
        <YLabel i={6} x={17}>θ [°]</YLabel>

        <rect x={125} y={80} width={92} height={30} rx={5} fill={BLUE} stroke="#222" strokeWidth={1} />
        <text x={171} y={101} textAnchor="middle" fill="#fff" fontSize={19} fontWeight="bold" fontFamily={FONT}>
          BH 541
        </text>

        <Badge x={568.5} y={759} w={92.5} h={36} color={BLUE} sym="Ψ" sub="stars, BH" />
        <Badge x={710.5} y={759} w={82.5} h={37} color={GREEN} sym="Ψ" sub="gas, BH" />
        <Badge x={851} y={759} w={97.5} h={36} color={RED} sym="Ψ" sub="stars, gas" />
        <Badge x={745.5} y={969} w={47.5} h={34} color={BLUE} sym="θ" sub="BH" />
        <Badge x={833.5} y={968} w={52.5} h={37} color={GREEN} sym="θ" sub="gas" />
        <Badge x={921.5} y={969} w={62} h={34} color={RED} sym="θ" sub="stars" />
      </svg>
    </div>
  );
}
